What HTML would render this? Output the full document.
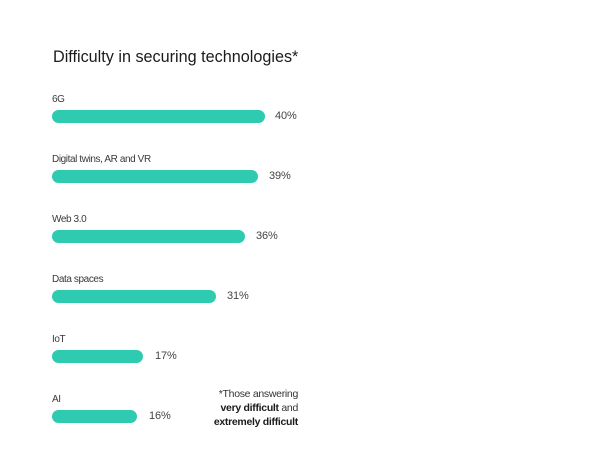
<!DOCTYPE html>
<html>
<head>
<meta charset="utf-8">
<style>
  html, body { margin:0; padding:0; }
  body { width:600px; height:475px; background:#ffffff; position:relative; overflow:hidden;
         font-family:"Liberation Sans", sans-serif; }
  .t { position:absolute; white-space:nowrap; line-height:1; }
  .title { left:53px; top:48.5px; font-size:16.2px; color:#1b1b1b; letter-spacing:0px; }
  .lab { left:52px; font-size:10px; color:#3a3a3a; letter-spacing:-0.4px; }
  .pct { font-size:11px; color:#444; letter-spacing:-0.1px; }
  .bar { position:absolute; left:52px; height:13px; border-radius:6.5px; background:#2ecbb0; }
  .note { position:absolute; right:302px; top:386.5px; font-size:10.5px; line-height:14px;
          color:#333; text-align:right; letter-spacing:-0.3px; white-space:nowrap; }
  .note b { color:#1b1b1b; }
</style>
</head>
<body>
  <div class="t title">Difficulty in securing technologies*</div>

  <div class="t lab" style="top:95px;">6G</div>
  <div class="bar" style="top:110px; width:213px;"></div>
  <div class="t pct" style="left:275px; top:111px;">40%</div>

  <div class="t lab" style="top:155px;">Digital twins, AR and VR</div>
  <div class="bar" style="top:170px; width:206px;"></div>
  <div class="t pct" style="left:269px; top:171px;">39%</div>

  <div class="t lab" style="top:215px;">Web 3.0</div>
  <div class="bar" style="top:230px; width:193px;"></div>
  <div class="t pct" style="left:256px; top:231px;">36%</div>

  <div class="t lab" style="top:275px;">Data spaces</div>
  <div class="bar" style="top:290px; width:164px;"></div>
  <div class="t pct" style="left:227px; top:291px;">31%</div>

  <div class="t lab" style="top:335px;">IoT</div>
  <div class="bar" style="top:350px; width:91px;"></div>
  <div class="t pct" style="left:155px; top:351px;">17%</div>

  <div class="t lab" style="top:395px;">AI</div>
  <div class="bar" style="top:410px; width:85px;"></div>
  <div class="t pct" style="left:149px; top:411px;">16%</div>

  <div class="note">*Those answering<br><b>very difficult</b> and<br><b>extremely difficult</b></div>
</body>
</html>
